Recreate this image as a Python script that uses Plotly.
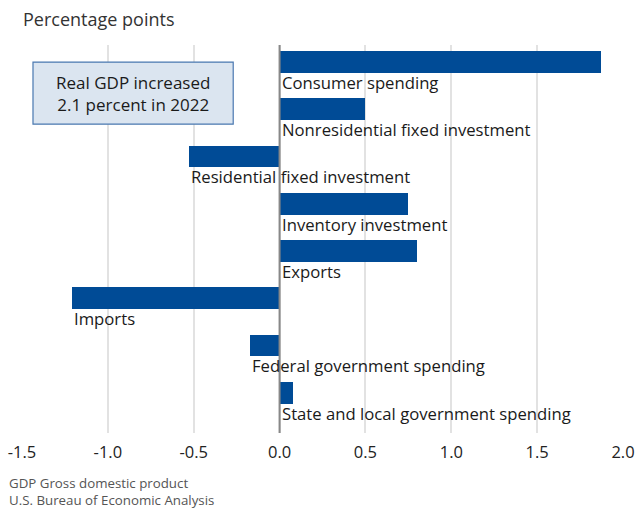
import plotly.graph_objects as go

categories = ["Consumer spending", "Nonresidential fixed investment", "Residential fixed investment",
              "Inventory investment", "Exports", "Imports", "Federal government spending",
              "State and local government spending"]
values = [1.87, 0.50, -0.53, 0.75, 0.80, -1.21, -0.17, 0.08]
tick_vals = [-1.5, -1.0, -0.5, 0.0, 0.5, 1.0, 1.5, 2.0]
tick_text = ["-1.5", "-1.0", "-0.5", "0.0", "0.5", "1.0", "1.5", "2.0"]

FONT = "Open Sans"
BAR = "#004b96"
pos = list(range(len(categories)))

fig = go.Figure()
fig.add_trace(go.Bar(
    x=values, y=pos, orientation="h",
    width=0.46, offset=-0.373,
    marker=dict(color=BAR, line=dict(width=0)),
    hoverinfo="skip", showlegend=False,
))

ann = []
for i, (c, v) in enumerate(zip(categories, values)):
    ann.append(dict(x=min(0, v), y=i + 0.29, xref="x", yref="y", text=c,
                    showarrow=False, xanchor="left", yanchor="middle", xshift=0,
                    font=dict(family=FONT, size=16.7, color="#1a1a1a")))

ann.append(dict(x=0, y=1, xref="paper", yref="paper", text="Percentage points",
                showarrow=False, xanchor="left", yanchor="bottom", xshift=-1, yshift=12,
                font=dict(family=FONT, size=18, color="#333333")))
ann.append(dict(x=0, y=0, xref="paper", yref="paper",
                text="GDP Gross domestic product<br>U.S. Bureau of Economic Analysis",
                showarrow=False, xanchor="left", yanchor="middle", align="left",
                xshift=-15, yshift=-58,
                font=dict(family=FONT, size=13.3, color="#555555")))
ann.append(dict(x=(-1.436 + -0.270) / 2, y=(0.956 + 0.796) / 2, xref="x", yref="paper",
                text="Real GDP increased<br>2.1 percent in 2022",
                showarrow=False, xanchor="center", yanchor="middle", align="center",
                font=dict(family=FONT, size=17, color="#1a1a1a")))

shapes = [
    dict(type="rect", xref="x", yref="paper", x0=-1.436, x1=-0.270, y0=0.796, y1=0.956,
         fillcolor="#dbe5f0", line=dict(color="#4a78b0", width=1.2), layer="above"),
    dict(type="line", xref="x", yref="paper", x0=0, x1=0, y0=0, y1=1,
         line=dict(color="#888888", width=2), layer="above"),
]

fig.update_layout(
    width=637, height=510,
    margin=dict(l=22, r=14, t=45, b=77, autoexpand=False),
    paper_bgcolor="white", plot_bgcolor="white",
    xaxis=dict(range=[-1.5, 2.0], tickvals=tick_vals, ticktext=tick_text, automargin=False,
               showgrid=True, gridcolor="#e2e2e2", gridwidth=2, zeroline=False,
               showline=False, ticks="", ticklabelstandoff=7,
               tickfont=dict(family=FONT, size=16.5, color="#222222"), fixedrange=True),
    yaxis=dict(range=[7.71, -0.5], showticklabels=False, showgrid=False,
               automargin=False, zeroline=False, showline=False, ticks="", fixedrange=True),
    annotations=ann, shapes=shapes, bargap=0,
)

fig.write_html("out.html", config={"displayModeBar": False},
               post_script="document.body.style.margin='0';document.body.style.overflow='hidden';")
